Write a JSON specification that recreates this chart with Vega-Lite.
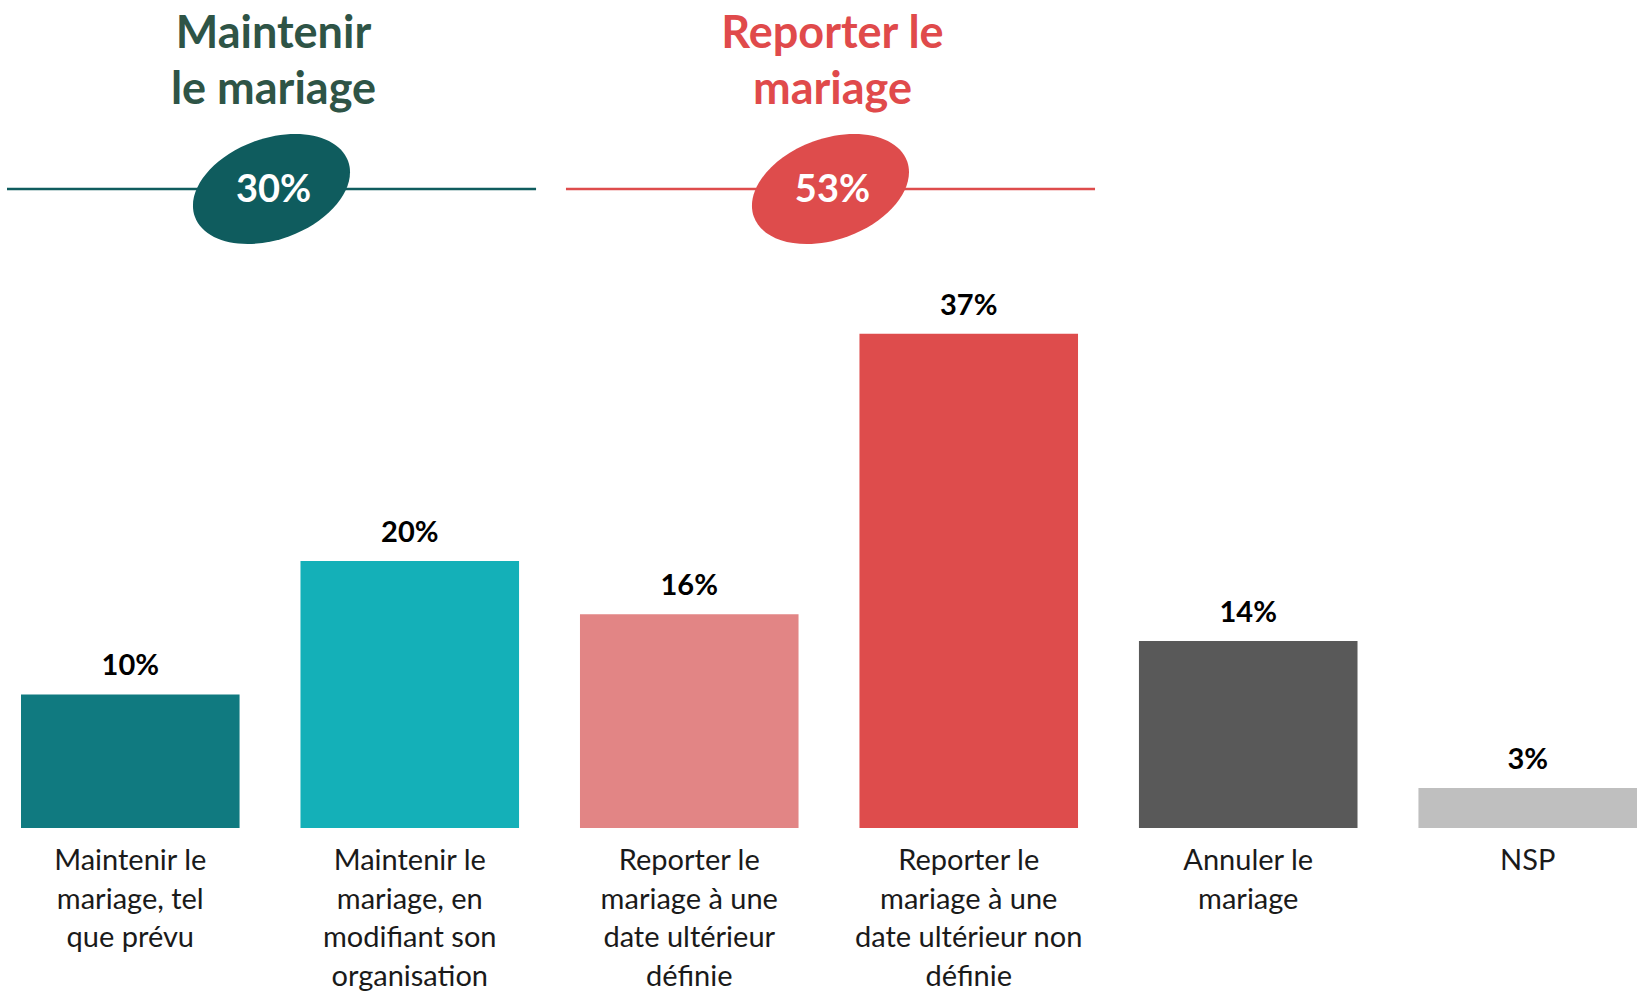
{
  "$schema": "https://vega.github.io/schema/vega-lite/v6.json",
  "width": 1616,
  "height": 828,
  "autosize": {"type": "none"},
  "padding": {"left": 21, "top": 0, "right": 0, "bottom": 164},
  "background": "white",
  "config": {"view": {"stroke": null}, "font": "Lato"},
  "datasets": {
    "answers": [
      {"option": "Maintenir le mariage, tel que prévu", "lines": ["Maintenir le", "mariage, tel", "que prévu"], "pct": 0.10},
      {"option": "Maintenir le mariage, en modifiant son organisation", "lines": ["Maintenir le", "mariage, en", "modifiant son", "organisation"], "pct": 0.20},
      {"option": "Reporter le mariage à une date ultérieur définie", "lines": ["Reporter le", "mariage à une", "date ultérieur", "définie"], "pct": 0.16},
      {"option": "Reporter le mariage à une date ultérieur non définie", "lines": ["Reporter le", "mariage à une", "date ultérieur non", "définie"], "pct": 0.37},
      {"option": "Annuler le mariage", "lines": ["Annuler le", "mariage"], "pct": 0.14},
      {"option": "NSP", "lines": ["NSP"], "pct": 0.03}
    ],
    "groups": [
      {"group": "Maintenir le mariage", "title": ["Maintenir", "le mariage"], "total": 0.30, "from": "Maintenir le mariage, tel que prévu", "to": "Maintenir le mariage, en modifiant son organisation"},
      {"group": "Reporter le mariage", "title": ["Reporter le", "mariage"], "total": 0.53, "from": "Reporter le mariage à une date ultérieur définie", "to": "Reporter le mariage à une date ultérieur non définie"}
    ]
  },
  "resolve": {"scale": {"color": "independent"}},
  "layer": [
    {
      "data": {"name": "answers"},
      "mark": {"type": "bar"},
      "encoding": {
        "x": {"field": "option", "type": "nominal", "axis": null, "scale": {"domain": ["Maintenir le mariage, tel que prévu", "Maintenir le mariage, en modifiant son organisation", "Reporter le mariage à une date ultérieur définie", "Reporter le mariage à une date ultérieur non définie", "Annuler le mariage", "NSP"], "paddingInner": 0.218, "paddingOuter": 0}},
        "y": {"field": "pct", "type": "quantitative", "axis": null, "scale": {"domain": [0, 0.62], "nice": false}},
        "color": {"field": "option", "type": "nominal", "legend": null, "scale": {"domain": ["Maintenir le mariage, tel que prévu", "Maintenir le mariage, en modifiant son organisation", "Reporter le mariage à une date ultérieur définie", "Reporter le mariage à une date ultérieur non définie", "Annuler le mariage", "NSP"], "range": ["#107A80", "#14B0B8", "#E28585", "#DE4C4C", "#595959", "#BFBFBF"]}}
      }
    },
    {
      "data": {"name": "answers"},
      "mark": {"type": "text", "fontWeight": "bold", "fontSize": 29, "dy": -19, "baseline": "alphabetic", "color": "#000000"},
      "encoding": {
        "x": {"field": "option", "type": "nominal", "axis": null, "scale": {"domain": ["Maintenir le mariage, tel que prévu", "Maintenir le mariage, en modifiant son organisation", "Reporter le mariage à une date ultérieur définie", "Reporter le mariage à une date ultérieur non définie", "Annuler le mariage", "NSP"]}},
        "y": {"field": "pct", "type": "quantitative"},
        "text": {"field": "pct", "type": "quantitative", "format": ".0%"}
      }
    },
    {
      "data": {"name": "answers"},
      "mark": {"type": "text", "fontSize": 29, "dy": 19, "baseline": "top", "lineHeight": 38.6, "color": "#1A1A1A"},
      "encoding": {
        "x": {"field": "option", "type": "nominal", "axis": null, "scale": {"domain": ["Maintenir le mariage, tel que prévu", "Maintenir le mariage, en modifiant son organisation", "Reporter le mariage à une date ultérieur définie", "Reporter le mariage à une date ultérieur non définie", "Annuler le mariage", "NSP"]}},
        "y": {"datum": 0},
        "text": {"field": "lines"}
      }
    },
    {
      "data": {"name": "groups"},
      "mark": {"type": "rule", "strokeWidth": 2.5, "xOffset": -14, "x2Offset": 17},
      "encoding": {
        "x": {"field": "from", "type": "nominal", "bandPosition": 0, "axis": null, "scale": {"domain": ["Maintenir le mariage, tel que prévu", "Maintenir le mariage, en modifiant son organisation", "Reporter le mariage à une date ultérieur définie", "Reporter le mariage à une date ultérieur non définie", "Annuler le mariage", "NSP"]}},
        "x2": {"field": "to", "bandPosition": 1},
        "y": {"datum": 0.4785},
        "color": {"field": "group", "type": "nominal", "legend": null, "scale": {"domain": ["Maintenir le mariage", "Reporter le mariage"], "range": ["#0F5C5E", "#DE4C4C"]}}
      }
    },
    {
      "data": {"name": "groups"},
      "mark": {"type": "point", "shape": "M -1 0 A 1 0.62 0 1 1 1 0 A 1 0.62 0 1 1 -1 0 Z", "filled": true, "opacity": 1, "size": 26569, "angle": -20, "xOffset": -29},
      "encoding": {
        "x": {"field": "to", "type": "nominal", "bandPosition": 0, "axis": null, "scale": {"domain": ["Maintenir le mariage, tel que prévu", "Maintenir le mariage, en modifiant son organisation", "Reporter le mariage à une date ultérieur définie", "Reporter le mariage à une date ultérieur non définie", "Annuler le mariage", "NSP"]}},
        "y": {"datum": 0.4785},
        "color": {"field": "group", "type": "nominal", "legend": null, "scale": {"domain": ["Maintenir le mariage", "Reporter le mariage"], "range": ["#0F5C5E", "#DE4C4C"]}}
      }
    },
    {
      "data": {"name": "groups"},
      "mark": {"type": "text", "fontWeight": "bold", "fontSize": 38, "baseline": "middle", "dy": 2, "color": "#FFFFFF", "xOffset": -27},
      "encoding": {
        "x": {"field": "to", "type": "nominal", "bandPosition": 0, "axis": null, "scale": {"domain": ["Maintenir le mariage, tel que prévu", "Maintenir le mariage, en modifiant son organisation", "Reporter le mariage à une date ultérieur définie", "Reporter le mariage à une date ultérieur non définie", "Annuler le mariage", "NSP"]}},
        "y": {"datum": 0.4785},
        "text": {"field": "total", "type": "quantitative", "format": ".0%"}
      }
    },
    {
      "data": {"name": "groups"},
      "mark": {"type": "text", "fontWeight": "bold", "fontSize": 45, "baseline": "alphabetic", "lineHeight": 56, "xOffset": -27},
      "encoding": {
        "x": {"field": "to", "type": "nominal", "bandPosition": 0, "axis": null, "scale": {"domain": ["Maintenir le mariage, tel que prévu", "Maintenir le mariage, en modifiant son organisation", "Reporter le mariage à une date ultérieur définie", "Reporter le mariage à une date ultérieur non définie", "Annuler le mariage", "NSP"]}},
        "y": {"datum": 0.584},
        "text": {"field": "title"},
        "color": {"field": "group", "type": "nominal", "legend": null, "scale": {"domain": ["Maintenir le mariage", "Reporter le mariage"], "range": ["#2E5446", "#E04A4B"]}}
      }
    }
  ]
}
